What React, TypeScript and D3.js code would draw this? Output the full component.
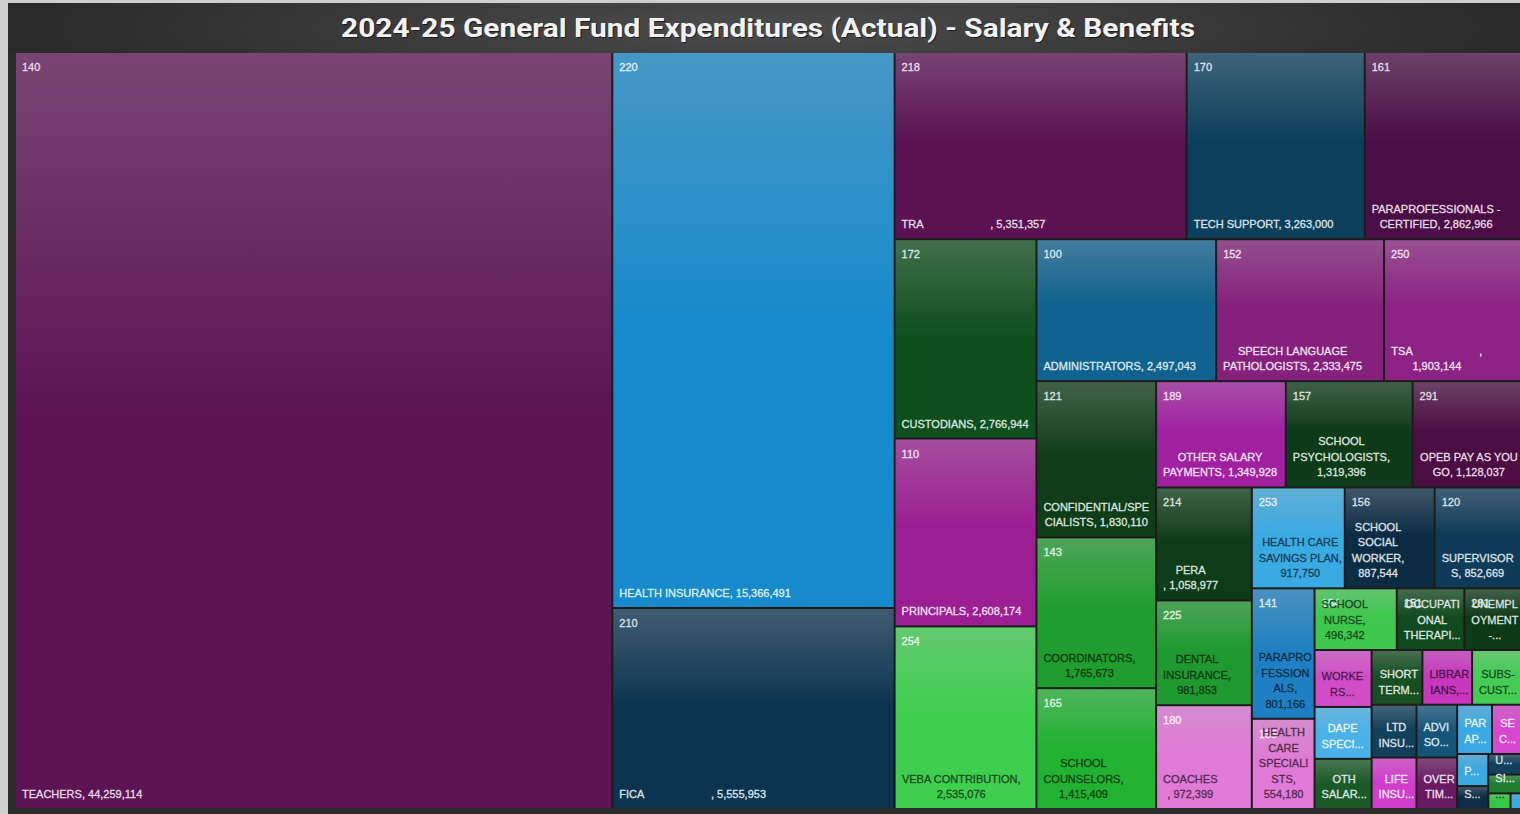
import React, { useMemo } from "react";
import * as d3 from "d3";

// ---------- DATA ----------
const codes = [
  "140", "220", "210", "218", "170", "161", "172", "110", "254", "100",
  "152", "250", "121", "143", "165", "189", "157", "291", "214", "225",
  "180", "253", "156", "120", "141", "155", "154", "151", "281", "270",
  "153", "199", "235", "144", "173", "233", "230", "185", "190", "142",
  "171", "146", "149", "175", "236", "298", "240",
];

const names = [
  "TEACHERS",
  "HEALTH INSURANCE",
  "FICA                      ",
  "TRA                      ",
  "TECH SUPPORT",
  "PARAPROFESSIONALS - CERTIFIED",
  "CUSTODIANS",
  "PRINCIPALS",
  "VEBA CONTRIBUTION",
  "ADMINISTRATORS",
  "SPEECH LANGUAGE PATHOLOGISTS",
  "TSA                      ",
  "CONFIDENTIAL/SPECIALISTS",
  "COORDINATORS",
  "SCHOOL COUNSELORS",
  "OTHER SALARY PAYMENTS",
  "SCHOOL PSYCHOLOGISTS",
  "OPEB PAY AS YOU GO",
  "PERA                      ",
  "DENTAL INSURANCE",
  "COACHES                      ",
  "HEALTH CARE SAVINGS PLAN",
  "SCHOOL SOCIAL WORKER",
  "SUPERVISORS",
  "PARAPROFESSIONALS",
  "HEALTH CARE SPECIALISTS",
  "SCHOOL NURSE",
  "OCCUPATIONAL THERAPISTS",
  "UNEMPLOYMENT - COMPENSATION",
  "WORKERS COMPENSATION",
  "DAPE SPECIALISTS",
  "OTH SALARIES - OTHER",
  "SHORT TERM DISABILITY",
  "LIBRARIANS",
  "SUBS-CUSTODIANS",
  "LTD INSURANCE",
  "LIFE INSURANCE",
  "ADVISORS",
  "OVERTIME",
  "PARAPROFESSIONALS - ADDL",
  "SECRETARIES",
  "PSYCHOLOGIST INTERNS",
  "SUBSTITUTES",
  "UNION RELEASE",
  "SICK LEAVE BANK",
  "SEVERANCE",
  "OTHER",
];

const amounts = [
  44259114, 15366491, 5555953, 5351357, 3263000, 2862966, 2766944, 2608174, 2535076, 2497043,
  2333475, 1903144, 1830110, 1765673, 1415409, 1349928, 1319396, 1128037, 1058977, 981853,
  972399, 917750, 887544, 852669, 801166, 554180, 496342, 408000, 342000, 318000,
  290000, 280000, 272000, 266000, 262000, 232000, 226000, 210000, 205000, 168000,
  140000, 98000, 70000, 66000, 60000, 34000, 16000,
];

// base colours (bottom of each tile)
const palette = [
  "#5c1454", "#178acb", "#0c3450", "#5a1252", "#0b3f5c", "#4a0e44", "#0f4f1e", "#9b1f92", "#3fcf4f", "#10628f",
  "#85207c", "#8c2283", "#0f3d1a", "#1f9e2f", "#22b232", "#a020a0", "#0d3a18", "#4c0d42", "#0e3b18", "#1f9a30",
  "#e07ad6", "#3aaae2", "#0c2c44", "#0f3a58", "#1e80c2", "#e07ad6", "#3ec84e", "#124a1f", "#0e3a18", "#d24cc8",
  "#4ab2e8", "#1b5a27", "#174f22", "#c837be", "#45cc55", "#123f5c", "#d23ccb", "#15557a", "#6a1a62", "#3aa8e2",
  "#d845cf", "#3aa8e2", "#0e2c44", "#123f5c", "#1f7f2f", "#35c845", "#3aa8e2",
];

const darkLabel = [
  false, false, false, false, false, false, false, false, true, false,
  false, false, false, true, true, false, false, false, false, true,
  true, true, false, false, true, true, true, false, false, true,
  false, false, false, true, true, false, false, false, false, false,
  false, false, false, false, false, true, false,
];

const TITLE = "2024-25 General Fund Expenditures (Actual) - Salary & Benefits";

// ---------- LAYOUT ----------
const W = 1520;
const H = 814;
const TM = { x: 16, y: 53, w: 1504, h: 755 };
const FONT = "11px 'Liberation Sans', Arial, sans-serif";
const LINE_H = 15.5;
const STOP_ASPECT = 1.58;

// squarified strips, closing a strip once its newest tile is near-square
function stripTile(parent: any, x0: number, y0: number, x1: number, y1: number) {
  const nodes = parent.children;
  let remaining = parent.value;
  let i = 0;
  while (i < nodes.length) {
    const dx = x1 - x0;
    const dy = y1 - y0;
    const k = remaining > 0 ? (dx * dy) / remaining : 0;
    const column = dx >= dy;
    const side = column ? dy : dx;
    const aspect = (v: number, s: number) => {
      const thick = (s * k) / side;
      const len = (v * k) / thick;
      return Math.max(thick / len, len / thick);
    };
    const worst = (from: number, to: number, s: number) => {
      let m = 0;
      for (let t = from; t < to; t++) m = Math.max(m, aspect(nodes[t].value, s));
      return m;
    };
    let j = i + 1;
    let sum = nodes[i].value;
    let curWorst = worst(i, j, sum);
    let last = curWorst;
    while (j < nodes.length && last >= STOP_ASPECT) {
      const ns = sum + nodes[j].value;
      const nw = worst(i, j + 1, ns);
      if (nw > curWorst) break;
      curWorst = nw;
      sum = ns;
      last = aspect(nodes[j].value, ns);
      j++;
    }
    const row: any = { value: sum, children: nodes.slice(i, j) };
    if (column) {
      const thick = remaining > 0 ? (sum / remaining) * dx : 0;
      d3.treemapSlice(row, x0, y0, x0 + thick, y1);
      x0 += thick;
    } else {
      const thick = remaining > 0 ? (sum / remaining) * dy : 0;
      d3.treemapDice(row, x0, y0, x1, y0 + thick);
      y0 += thick;
    }
    remaining -= sum;
    i = j;
  }
}

let ctx: CanvasRenderingContext2D | null = null;
function measure(s: string): number {
  if (!ctx) {
    const c = document.createElement("canvas");
    ctx = c.getContext("2d");
  }
  if (!ctx) return s.length * 6;
  ctx.font = FONT;
  return ctx.measureText(s).width;
}

function wrap(text: string, maxW: number, maxLines: number): string[] {
  const words = text.split(" ");
  const lines: string[] = [];
  let line = "";
  for (const w of words) {
    const cand = line.length ? line + " " + w : w;
    if (measure(cand.trimEnd()) <= maxW) {
      line = cand;
      continue;
    }
    if (line.trim().length) lines.push(line.trimEnd());
    let rest = w;
    while (measure(rest) > maxW && rest.length > 1) {
      let k = rest.length - 1;
      while (k > 1 && measure(rest.slice(0, k)) > maxW) k--;
      lines.push(rest.slice(0, k));
      rest = rest.slice(k);
    }
    line = rest;
  }
  if (line.trim().length) lines.push(line.trimEnd());
  if (lines.length > maxLines) {
    const kept = lines.slice(0, maxLines);
    let last = kept[maxLines - 1];
    while (last.length > 0 && measure(last + "...") > maxW) last = last.slice(0, -1);
    kept[maxLines - 1] = last.trimEnd() + "...";
    return kept;
  }
  return lines;
}

const fmt = d3.format(",");

type Item = { code: string; name: string; value: number; color: string; dark: boolean };

export default function App() {
  const leaves = useMemo(() => {
    const items: Item[] = codes.map((c, i) => ({
      code: c,
      name: names[i],
      value: amounts[i],
      color: palette[i],
      dark: darkLabel[i],
    }));
    const root = d3
      .hierarchy<any>({ children: items })
      .sum((d: any) => (d.children ? 0 : d.value))
      .sort((a, b) => (b.value ?? 0) - (a.value ?? 0));
    d3.treemap<any>()
      .tile(stripTile as any)
      .size([TM.w, TM.h])
      .paddingInner(2)(root);
    return root.leaves() as d3.HierarchyRectangularNode<any>[];
  }, []);

  return (
    <svg
      width={W}
      height={H}
      style={{ position: "absolute", left: 0, top: 0, display: "block" }}
    >
      <defs>
        <radialGradient id="titleGlow" cx="768" cy="28" r="760" gradientUnits="userSpaceOnUse"
          gradientTransform="translate(768 28) scale(1 0.12) translate(-768 -28)">
          <stop offset="0%" stopColor="#4c4c4c" />
          <stop offset="100%" stopColor="#2a2a2a" />
        </radialGradient>
        {leaves.map((l, i) => {
          const base = d3.color(l.data.color)!;
          const top = d3.interpolateRgb(l.data.color, "#b8b8b8")(0.3);
          return (
            <linearGradient key={i} id={`cg${i}`} x1="0" y1="0" x2="0" y2="1">
              <stop offset="0%" stopColor={top} />
              <stop offset="48%" stopColor={base.formatHex()} />
              <stop offset="100%" stopColor={base.formatHex()} />
            </linearGradient>
          );
        })}
      </defs>
      <rect x={0} y={0} width={W} height={H} fill="#cfcfcf" />
      <rect x={8} y={3} width={W} height={H} fill="#2c2c2c" />
      <rect x={8} y={3} width={W} height={50} fill="url(#titleGlow)" />
      <rect x={TM.x} y={TM.y} width={TM.w} height={TM.h} fill="#1b1b1b" />
      <text
        x={769}
        y={38}
        textAnchor="middle"
        fontFamily="Roboto, 'Liberation Sans', sans-serif"
        fontWeight={700}
        fontSize={26}
        textLength={854}
        lengthAdjust="spacingAndGlyphs"
        fill="#000"
        opacity={0.55}
      >
        {TITLE}
      </text>
      <text
        x={768}
        y={37}
        textAnchor="middle"
        fontFamily="Roboto, 'Liberation Sans', sans-serif"
        fontWeight={700}
        fontSize={26}
        textLength={854}
        lengthAdjust="spacingAndGlyphs"
        fill="#f2f2f2"
      >
        {TITLE}
      </text>
      <g transform={`translate(${TM.x},${TM.y})`}>
        {leaves.map((l, i) => {
          const x = l.x0;
          const y = l.y0;
          const w = l.x1 - l.x0;
          const h = l.y1 - l.y0;
          const d = l.data as Item;
          const lightCol = d3.interpolateRgb(d.color, "#ffffff")(0.86);
          const textCol = d.dark
            ? d3.color(d.color)!.darker(2.8).formatHex()
            : lightCol;
          const label = `${d.name}, ${fmt(d.value)}`;
          const maxW = w - 7;
          const maxLines = Math.max(1, Math.floor((h - 10) / LINE_H));
          const lines = w > 16 && h > 12 ? wrap(label, maxW, maxLines) : [];
          const blockW = lines.length ? Math.max(...lines.map(measure)) : 0;
          const cx = x + 6 + blockW / 2;
          const lastBase = y + h - 10;
          const showCode = h >= 58 && w >= 24;
          return (
            <g key={i}>
              <rect x={x} y={y} width={w} height={h} fill={`url(#cg${i})`} />
              {showCode && (
                <text
                  x={x + 6}
                  y={y + 18}
                  fontFamily="'Liberation Sans', Arial, sans-serif"
                  fontSize={11}
                  fill={lightCol}
                  stroke={lightCol}
                  strokeWidth={0.3}
                >
                  {d.code}
                </text>
              )}
              {lines.map((ln, j) => (
                <text
                  key={j}
                  x={lines.length === 1 ? x + 6 : cx}
                  y={lastBase - (lines.length - 1 - j) * LINE_H}
                  textAnchor={lines.length === 1 ? "start" : "middle"}
                  fontFamily="'Liberation Sans', Arial, sans-serif"
                  fontSize={11}
                  fill={textCol}
                  stroke={textCol}
                  strokeWidth={0.3}
                  style={{ whiteSpace: "pre" }}
                >
                  {ln}
                </text>
              ))}
            </g>
          );
        })}
      </g>
    </svg>
  );
}
